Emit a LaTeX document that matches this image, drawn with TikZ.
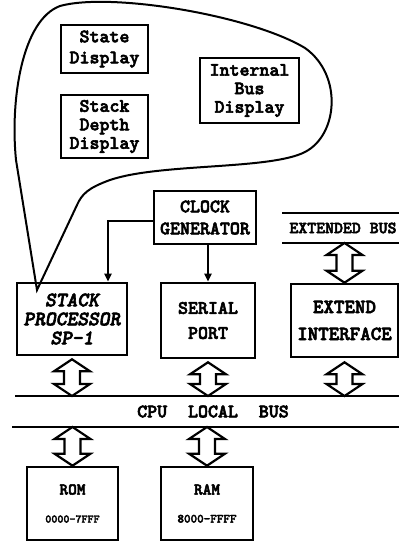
\documentclass[tikz,border=0pt]{standalone}
\usepackage{fontspec}
\newfontfamily\boxfont{lmmonolt10}[Extension=.otf, UprightFont=*-regular, BoldFont=*-bold, ItalicFont=*-oblique, BoldItalicFont=*-boldoblique, BoldFeatures={FakeBold=3}, BoldItalicFeatures={FakeBold=3}]
\usepackage{tikz}
\usetikzlibrary{arrows.meta, positioning, calc}

% hollow two-headed bus arrow from a top point to a bottom point
\newcommand{\busarrow}[2]{%
  \draw[dblarrow] (#1) -- ++(18,-12) -- ++(-10,0) -- ($(#2)+(8,12)$) -- ++(10,0) -- (#2)
    -- ++(-18,12) -- ++(10,0) -- ($(#1)+(-8,-12)$) -- ++(-10,0) -- cycle;}

\begin{document}
\begin{tikzpicture}[
    x=1pt, y=1pt,
    dispbox/.style = {rectangle, draw, line width=2.4pt, align=center, inner sep=0pt, font=\boxfont\bfseries\fontsize{19}{18.5}\selectfont},
    unitbox/.style = {rectangle, draw, line width=2.6pt, align=center, inner sep=0pt, font=\boxfont\bfseries\fontsize{19}{22}\selectfont},
    membox/.style = {rectangle, draw, line width=2.6pt, align=center, inner sep=0pt, minimum height=73pt, font=\boxfont\bfseries\fontsize{16.5}{28}\selectfont},
    busfont/.style = {font=\boxfont\bfseries\fontsize{19}{20}\selectfont},
    arrow/.style = {draw, ->, >={Triangle[length=8pt, width=7pt]}, line width=2pt},
    busline/.style = {line width=2pt},
    dblarrow/.style = {draw, line width=2.2pt, line join=miter, fill=white}
]
\useasboundingbox (0,0) rectangle (399,-541);

\node (state_disp) [dispbox, minimum width=87pt, minimum height=48pt] at (104.5,-49) {State\\[2.5pt]Display};
\node (depth_disp) [dispbox, minimum width=87pt, minimum height=63pt] at (104.5,-126.5) {Stack\\Depth\\Display};
\node (bus_disp) [dispbox, minimum width=99pt, minimum height=65pt] at (249.5,-90.5) {Internal\\Bus\\Display};

\draw[line width=2pt] (37,-290) -- (16,-160)
  .. controls (10,-100) and (22,-20) .. (60,-6)
  .. controls (110,8) and (250,-15) .. (305,-48)
  .. controls (343,-75) and (338,-135) .. (305,-152)
  .. controls (270,-170) and (160,-163) .. (110,-180)
  .. controls (88,-188) and (82,-194) .. (77,-205) -- cycle;

\node (clock) [unitbox, minimum width=102pt, minimum height=53pt] at (205,-217.5) {CLOCK\\GENERATOR};
\node (sp1) [unitbox, minimum width=110pt, minimum height=72pt, font=\boxfont\bfseries\itshape\fontsize{20.5}{19}\selectfont] at (72,-319) {STACK\\PROCESSOR\\SP-1};
\node (serial) [unitbox, minimum width=94pt, minimum height=75pt] at (208,-320.5) {SERIAL\\[3pt]PORT};
\node (ext_if) [unitbox, minimum width=107pt, minimum height=73pt, font=\boxfont\bfseries\fontsize{20}{27}\selectfont] at (344.5,-320.5) {EXTEND\\INTERFACE};

\node (ext_bus) [busfont, font=\boxfont\bfseries\fontsize{17}{18}\selectfont] at (343,-228) {EXTENDED BUS};
\draw[busline] (282,-213) -- (399,-213);
\draw[busline] (282,-243) -- (399,-243);
\coordinate (ext_bus_low) at (0,-243);

\node (local_bus) [busfont] at (213,-411.5) {CPU\hspace{1.1em}LOCAL\hspace{1.1em}BUS};
\draw[busline] (15,-396) -- (399,-396);
\draw[busline] (12,-427) -- (399,-427);
\coordinate (bus_top) at (0,-396);
\coordinate (bus_low) at (0,-427);

\node (rom) [membox, minimum width=91pt] at (72.5,-503.5) {ROM\\{\fontsize{11.5}{12}\selectfont 0000-7FFF}};
\node (ram) [membox, minimum width=92pt] at (207,-503.5) {RAM\\{\fontsize{12.5}{12}\selectfont 8000-FFFF}};

\draw [arrow] ([yshift=-3.5pt]clock.west) -| ([xshift=36pt]sp1.north);
\draw [arrow] (clock.south -| serial.north) -- (serial.north);

\busarrow{ext_if.north |- ext_bus_low}{ext_if.north}
\busarrow{[yshift=-3pt]sp1.south}{sp1.south |- bus_top}
\busarrow{[yshift=-3pt]serial.south}{serial.south |- bus_top}
\busarrow{[yshift=-4pt]ext_if.south}{ext_if.south |- bus_top}
\busarrow{rom.north |- bus_low}{rom.north}
\busarrow{ram.north |- bus_low}{ram.north}

\end{tikzpicture}
\end{document}
